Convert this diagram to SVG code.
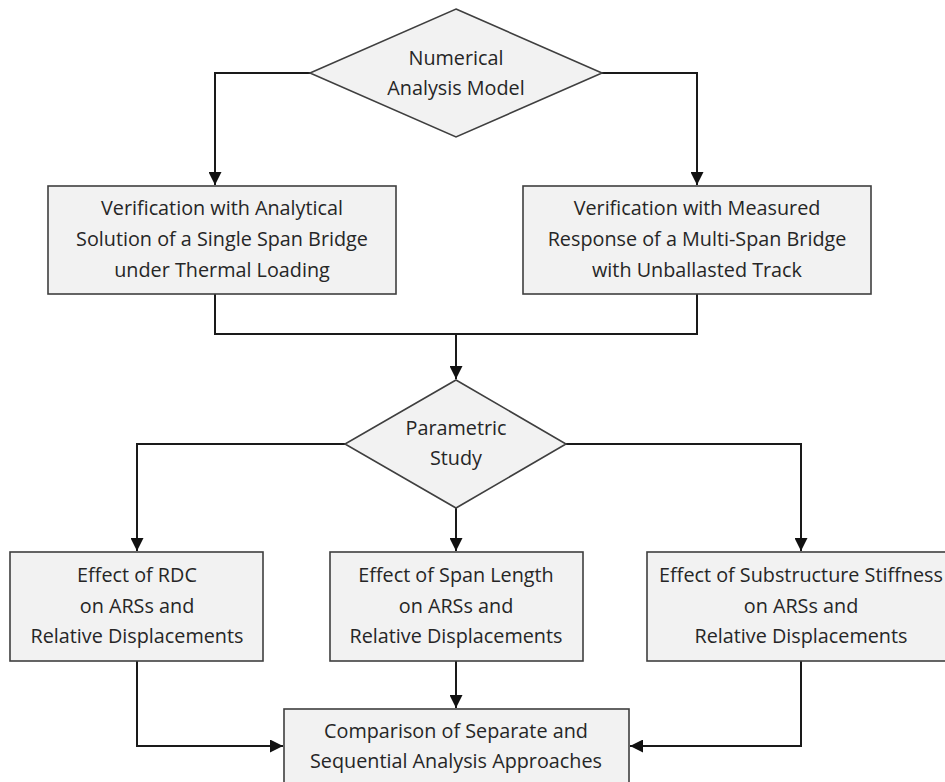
<svg xmlns="http://www.w3.org/2000/svg" width="945" height="782" viewBox="0 0 945 782">
<style>
.n{fill:#f2f2f2;stroke:#3f3f3f;stroke-width:1.6}
.t{font-family:"Open Sans","Liberation Sans",sans-serif;font-size:19.8px;fill:#262626;text-anchor:middle}
.c{fill:none;stroke:#1a1a1a;stroke-width:2}
</style>
<defs>
<marker id="a" viewBox="0 0 10 10" refX="10" refY="5" markerWidth="6.5" markerHeight="6.5" orient="auto" markerUnits="strokeWidth">
<path d="M0,0 L10,5 L0,10 z" fill="#111"/>
</marker>
</defs>
<rect width="945" height="782" fill="#fff"/>
<g id="connectors">
<path class="c" d="M310,73 H215 V185" marker-end="url(#a)"/>
<path class="c" d="M602,73 H697 V185" marker-end="url(#a)"/>
<path class="c" d="M215,294 V334 H697 V294"/>
<path class="c" d="M456,334 V379" marker-end="url(#a)"/>
<path class="c" d="M345,444 H137 V551" marker-end="url(#a)"/>
<path class="c" d="M566,444 H801 V551" marker-end="url(#a)"/>
<path class="c" d="M456,508 V551" marker-end="url(#a)"/>
<path class="c" d="M456,661 V708" marker-end="url(#a)"/>
<path class="c" d="M137,661 V746 H283" marker-end="url(#a)"/>
<path class="c" d="M801,661 V746 H630" marker-end="url(#a)"/>
</g>
<g id="numerical">
<polygon class="n" points="456,9 602,73 456,137 310,73"/>
<text class="t" x="456" y="65">Numerical</text>
<text class="t" x="456" y="95">Analysis Model</text>
</g>
<g id="verif-analytical">
<rect class="n" x="48" y="186" width="348" height="108"/>
<text class="t" x="222" y="215">Verification with Analytical</text>
<text class="t" x="222" y="246">Solution of a Single Span Bridge</text>
<text class="t" x="222" y="277">under Thermal Loading</text>
</g>
<g id="verif-measured">
<rect class="n" x="523" y="186" width="348" height="108"/>
<text class="t" x="697" y="215">Verification with Measured</text>
<text class="t" x="697" y="246">Response of a Multi-Span Bridge</text>
<text class="t" x="697" y="277">with Unballasted Track</text>
</g>
<g id="parametric">
<polygon class="n" points="456,380 566,444 456,508 345,444"/>
<text class="t" x="456" y="435">Parametric</text>
<text class="t" x="456" y="465">Study</text>
</g>
<g id="effect-rdc">
<rect class="n" x="10" y="552" width="253" height="109"/>
<text class="t" x="137" y="582">Effect of RDC</text>
<text class="t" x="137" y="613">on ARSs and</text>
<text class="t" x="137" y="643">Relative Displacements</text>
</g>
<g id="effect-span">
<rect class="n" x="330" y="552" width="253" height="109"/>
<text class="t" x="456" y="582">Effect of Span Length</text>
<text class="t" x="456" y="613">on ARSs and</text>
<text class="t" x="456" y="643">Relative Displacements</text>
</g>
<g id="effect-substructure">
<rect class="n" x="647" y="552" width="310" height="109"/>
<text class="t" x="801" y="582">Effect of Substructure Stiffness</text>
<text class="t" x="801" y="613">on ARSs and</text>
<text class="t" x="801" y="643">Relative Displacements</text>
</g>
<g id="comparison">
<rect class="n" x="284" y="709" width="345" height="90"/>
<text class="t" x="456" y="738">Comparison of Separate and</text>
<text class="t" x="456" y="768">Sequential Analysis Approaches</text>
</g>
</svg>
